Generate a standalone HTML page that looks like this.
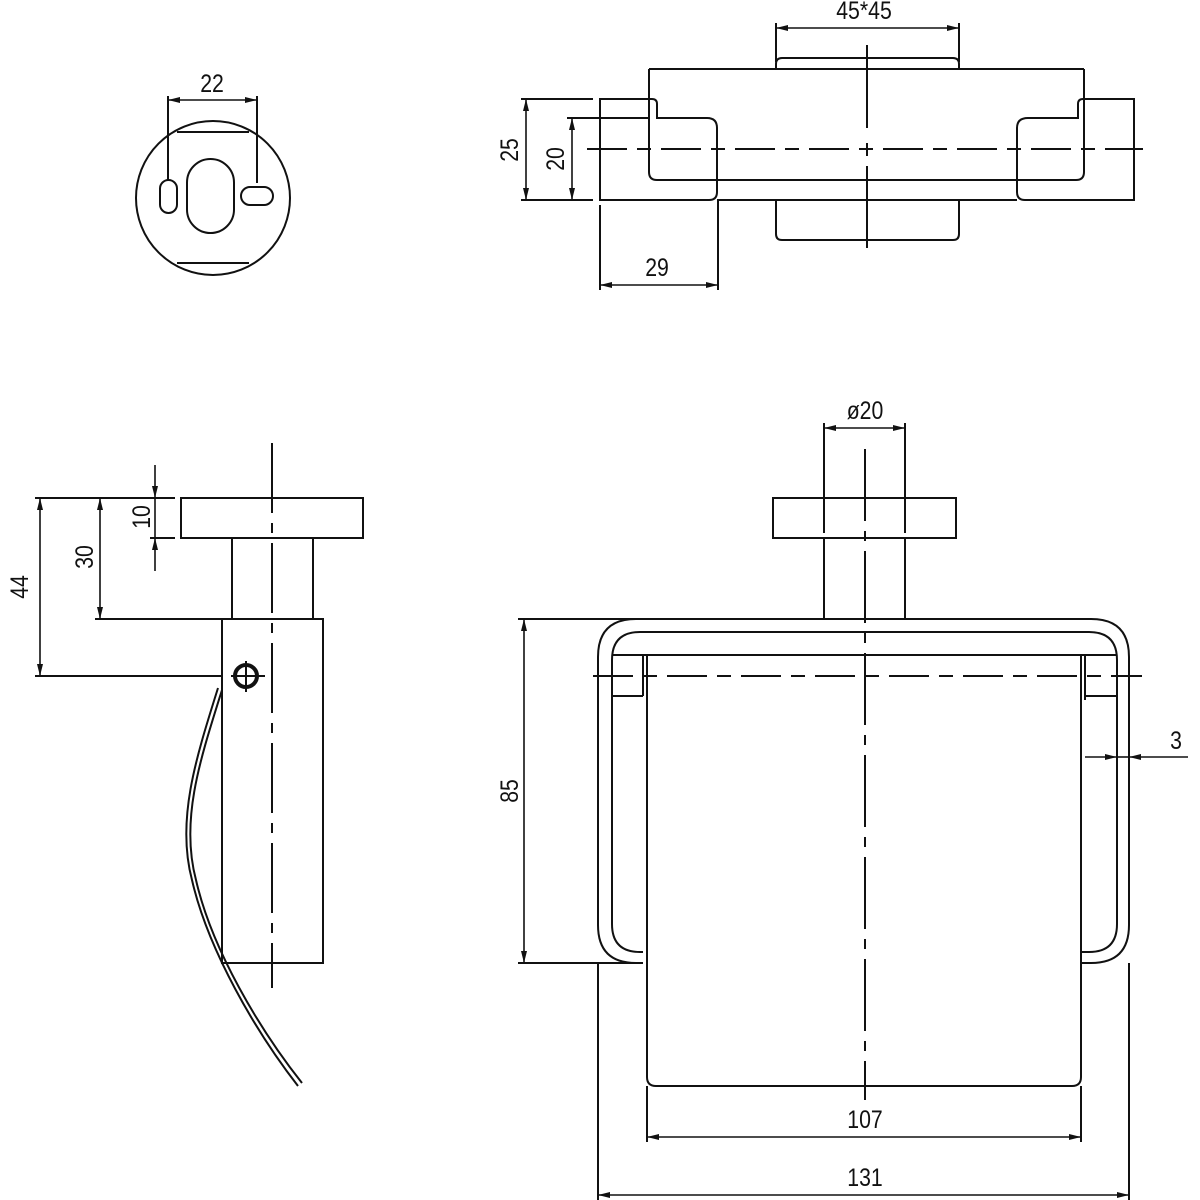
<!DOCTYPE html>
<html><head><meta charset="utf-8"><style>
html,body{margin:0;padding:0;background:#fff;}
svg{display:block;}
text{font-family:"Liberation Sans",sans-serif;font-size:25px;fill:#111;}
</style></head><body>
<svg width="1200" height="1200" viewBox="0 0 1200 1200" xmlns="http://www.w3.org/2000/svg">
<defs>
<marker id="a" viewBox="0 0 12 6" refX="12" refY="3" markerWidth="12" markerHeight="6" markerUnits="userSpaceOnUse" orient="auto-start-reverse"><path d="M0,0 L12,3 L0,6 z" fill="#111"/></marker>
</defs>
<g fill="none" stroke="#111" stroke-width="2">
<!-- Circle view -->
<circle cx="213" cy="198" r="77"/>
<line x1="177" y1="132" x2="249" y2="132"/>
<line x1="177" y1="263" x2="249" y2="263"/>
<rect x="160" y="180" width="17" height="33" rx="8.5"/>
<rect x="187" y="159" width="47" height="74" rx="23.5"/>
<rect x="241" y="187" width="32" height="18" rx="9"/>
<line x1="168" y1="96" x2="168" y2="181"/>
<line x1="257" y1="96" x2="257" y2="183"/>
<line x1="168" y1="100" x2="257" y2="100" marker-start="url(#a)" marker-end="url(#a)" stroke-width="1.6"/>

<!-- Top view -->
<path d="M776,69 L776,64 Q776,58 782,58 L953,58 Q959,58 959,64 L959,69"/>
<path d="M776,200 L776,234 Q776,240 782,240 L953,240 Q959,240 959,234 L959,200"/>
<line x1="649" y1="69" x2="1084" y2="69"/>
<path d="M649,69 L649,172 Q649,180 657,180 L1076,180 Q1084,180 1084,172 L1084,69"/>
<path d="M600,99 L652,99 Q657,99 657,104 L657,118 L707,118 Q717,118 717,128 L717,192 Q717,200 709,200 L600,200 Z"/>
<path d="M1134,99 L1083,99 Q1078,99 1078,104 L1078,118 L1028,118 Q1017,118 1017,128 L1017,192 Q1017,200 1025,200 L1134,200 Z"/>
<line x1="717" y1="200" x2="1017" y2="200"/>
<line x1="867" y1="45" x2="867" y2="128"/>
<line x1="867" y1="143" x2="867" y2="156"/>
<line x1="867" y1="166" x2="867" y2="248"/>
<line x1="587" y1="149" x2="1143" y2="149" stroke-dasharray="40,10,14,10"/>
<line x1="776" y1="23" x2="776" y2="62"/>
<line x1="959" y1="23" x2="959" y2="62"/>
<line x1="776" y1="28" x2="959" y2="28" marker-start="url(#a)" marker-end="url(#a)" stroke-width="1.6"/>
<line x1="521" y1="99" x2="593" y2="99"/>
<line x1="521" y1="200" x2="593" y2="200"/>
<line x1="526" y1="99" x2="526" y2="200" marker-start="url(#a)" marker-end="url(#a)" stroke-width="1.6"/>
<line x1="567" y1="118" x2="650" y2="118"/>
<line x1="572" y1="118" x2="572" y2="200" marker-start="url(#a)" marker-end="url(#a)" stroke-width="1.6"/>
<line x1="600" y1="205" x2="600" y2="290"/>
<line x1="718" y1="200" x2="718" y2="290"/>
<line x1="600" y1="285" x2="718" y2="285" marker-start="url(#a)" marker-end="url(#a)" stroke-width="1.6"/>

<!-- Side view -->
<rect x="181" y="498" width="182" height="40"/>
<rect x="232" y="538" width="81" height="81"/>
<rect x="222" y="619" width="101" height="344"/>
<line x1="272" y1="443" x2="272" y2="988" stroke-dasharray="70,10,10,10"/>
<circle cx="246" cy="676" r="11" stroke-width="4"/>
<line x1="231" y1="676" x2="265" y2="676"/>
<line x1="246" y1="661" x2="246" y2="692"/>
<path d="M222,690 C200,760 180,820 196,880 C212,950 260,1030 302,1083"/>
<path d="M218,688 C196,758 176,820 192,880 C208,950 256,1032 298,1086"/>
<line x1="35" y1="498" x2="175" y2="498"/>
<line x1="35" y1="676" x2="222" y2="676"/>
<line x1="95" y1="619" x2="222" y2="619"/>
<line x1="150" y1="538" x2="175" y2="538"/>
<line x1="40" y1="498" x2="40" y2="676" marker-start="url(#a)" marker-end="url(#a)" stroke-width="1.6"/>
<line x1="100" y1="498" x2="100" y2="619" marker-start="url(#a)" marker-end="url(#a)" stroke-width="1.6"/>
<line x1="155" y1="465" x2="155" y2="498" marker-end="url(#a)" stroke-width="1.6"/>
<line x1="155" y1="571" x2="155" y2="538" marker-end="url(#a)" stroke-width="1.6"/>
<line x1="155" y1="498" x2="155" y2="538" stroke-width="1.6"/>

<!-- Front view -->
<rect x="773" y="498" width="183" height="40"/>
<line x1="824" y1="538" x2="824" y2="619"/>
<line x1="905" y1="538" x2="905" y2="619"/>
<line x1="824" y1="423" x2="824" y2="533"/>
<line x1="905" y1="423" x2="905" y2="533"/>
<line x1="824" y1="428" x2="905" y2="428" marker-start="url(#a)" marker-end="url(#a)" stroke-width="1.6"/>
<line x1="865" y1="449" x2="865" y2="1100" stroke-dasharray="72,10,10,10"/>
<path d="M643,963 L636,963 Q598,963 598,925 L598,657 Q598,619 636,619 L1091,619 Q1129,619 1129,657 L1129,925 Q1129,963 1091,963 L1081,963"/>
<path d="M643,952 L640,952 Q612,952 612,924 L612,660 Q612,632 640,632 L1089,632 Q1117,632 1117,660 L1117,924 Q1117,952 1089,952 L1081,952"/>
<path d="M612,655 L1117,655"/>
<path d="M647,655 L647,1077 Q647,1086 656,1086 L1072,1086 Q1081,1086 1081,1077 L1081,655"/>
<line x1="643" y1="655" x2="643" y2="696"/>
<line x1="612" y1="696" x2="643" y2="696"/>
<line x1="1085" y1="655" x2="1085" y2="700"/>
<line x1="1085" y1="696" x2="1117" y2="696"/>
<line x1="593" y1="676" x2="1142" y2="676" stroke-dasharray="40,10,14,10"/>
<line x1="518" y1="619" x2="640" y2="619"/>
<line x1="518" y1="963" x2="640" y2="963"/>
<line x1="524" y1="619" x2="524" y2="963" marker-start="url(#a)" marker-end="url(#a)" stroke-width="1.6"/>
<line x1="1085" y1="757" x2="1117" y2="757" marker-end="url(#a)" stroke-width="1.6"/>
<line x1="1188" y1="757" x2="1129" y2="757" marker-end="url(#a)" stroke-width="1.6"/>
<line x1="1117" y1="757" x2="1129" y2="757" stroke-width="1.6"/>
<line x1="647" y1="1086" x2="647" y2="1142"/>
<line x1="1081" y1="1086" x2="1081" y2="1142"/>
<line x1="647" y1="1137" x2="1081" y2="1137" marker-start="url(#a)" marker-end="url(#a)" stroke-width="1.6"/>
<line x1="598" y1="963" x2="598" y2="1200"/>
<line x1="1129" y1="963" x2="1129" y2="1200"/>
<line x1="598" y1="1195" x2="1129" y2="1195" marker-start="url(#a)" marker-end="url(#a)" stroke-width="1.6"/>
</g>
<g text-anchor="middle">
<text transform="translate(212,92) scale(0.85,1)">22</text>
<text transform="translate(864,19) scale(0.85,1)">45*45</text>
<text transform="translate(657,276) scale(0.85,1)">29</text>
<text transform="translate(518,150) rotate(-90) scale(0.85,1)">25</text>
<text transform="translate(564,159) rotate(-90) scale(0.85,1)">20</text>
<text transform="translate(28,587) rotate(-90) scale(0.85,1)">44</text>
<text transform="translate(93,557) rotate(-90) scale(0.85,1)">30</text>
<text transform="translate(150,517) rotate(-90) scale(0.85,1)">10</text>
<text transform="translate(865,419) scale(0.85,1)">ø20</text>
<text transform="translate(518,791) rotate(-90) scale(0.85,1)">85</text>
<text transform="translate(1176,749) scale(0.85,1)">3</text>
<text transform="translate(865,1128) scale(0.85,1)">107</text>
<text transform="translate(865,1186) scale(0.85,1)">131</text>
</g>
</svg>
</body></html>
